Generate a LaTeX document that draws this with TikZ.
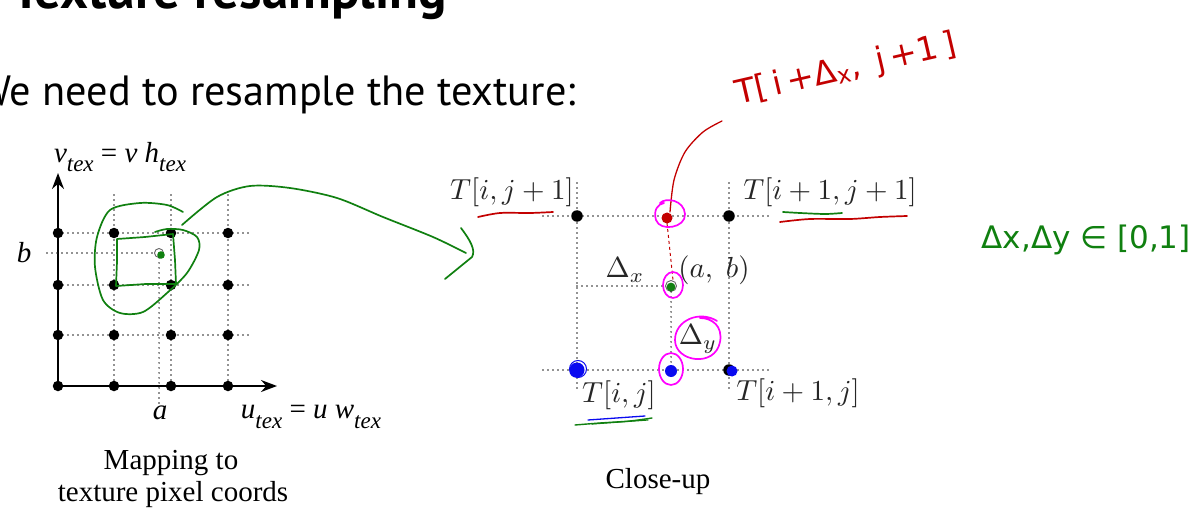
\documentclass[tikz,border=0pt]{standalone}
\usepackage{graphicx}
\usepackage{fontspec}
\setmainfont{Liberation Serif}
\newfontfamily\slidefont{PT Sans}
\newfontfamily\handfont{DejaVu Sans}
\usetikzlibrary{arrows.meta}
\definecolor{hgreen}{RGB}{16,128,16}
\definecolor{hred}{RGB}{195,0,0}
\definecolor{hmag}{RGB}{255,0,255}
\definecolor{hblue}{RGB}{10,10,240}
\newcommand{\tx}[1]{\textit{#1}}
\newcommand{\sbx}[1]{\raisebox{-0.32em}{\fontsize{23}{26}\selectfont\textit{#1}}}
\newcommand{\cmm}[1]{\scalebox{2.9}{$#1$}}
\tikzset{
  dotline/.style={line width=1.6pt, dash pattern=on 0pt off 5pt, line cap=round, black!85},
  griddot/.style={circle, fill=black, inner sep=0pt, minimum size=10.5pt},
  bigdot/.style={circle, fill=black, inner sep=0pt, minimum size=11.5pt},
  opendot/.style={circle, draw=black!60, fill=white, line width=0.9pt, inner sep=0pt, minimum size=9pt},
  axis/.style={line width=1.8pt, -{Stealth[length=16pt,width=12pt]}},
  serif/.style={font=\fontsize{29}{33}\selectfont, inner sep=0pt},
  cmlab/.style={font=\fontsize{10}{12}\selectfont, inner sep=0pt, text=black!85},
  ink/.style={line width=1.7pt, line cap=round, line join=round},
  slide/.style={font=\slidefont\fontsize{42.3}{50}\selectfont, inner sep=0pt},
  hand/.style={font=\handfont\fontsize{32}{36}\selectfont, inner sep=0pt}
}
\begin{document}
\begin{tikzpicture}[x=1pt,y=-1pt]
\clip (0,0) rectangle (1195,516);
\fill[white] (0,0) rectangle (1195,516);

% slide text
\node[slide, font=\slidefont\bfseries\fontsize{53}{60}\selectfont, anchor=base east] (title) at (447,9) {Texture resampling};
\node[slide, anchor=base east] (intro) at (576,106) {We need to resample the texture:};

% ---------- left figure ----------
\foreach \y in {335,285,233} \draw[dotline] (58,\y) -- (250,\y);
\foreach \x in {114,171,228} \draw[dotline] (\x,195) -- (\x,386);
\coordinate (O) at (58,386);
\coordinate (vtip) at (58,173);
\coordinate (utip) at (277,386);
\draw[axis] (O) -- (vtip);
\draw[axis] (O) -- (utip);
\foreach \x [count=\i] in {58,114,171,228}
  \foreach \y [count=\j] in {386,335,285,233}
    \node[griddot] (g\i\j) at (\x,\y) {};
\coordinate (bstart) at (47,253);
\coordinate (aend) at (159,407);
\node[opendot] (ab) at (159,253) {};
\draw[dotline] (bstart) -- (ab.west);
\draw[dotline] (ab.south) -- (aend);
\node[serif] (blab) at (24,253) {\tx{b}};
\node[serif] (alab) at (160,413) {\tx{a}};
\node[serif] (vlab) at (120,157) {\tx{v}\sbx{tex} = \tx{v} \tx{h}\sbx{tex}};
\node[serif] (ulab) at (311,417) {\tx{u}\sbx{tex} = \tx{u} \tx{w}\sbx{tex}};
\node[serif] (cap1) at (171,463) {Mapping to};
\node[serif] (cap2) at (173,495) {texture pixel coords};

% ---------- close-up ----------
\draw[dotline] (543,216) -- (770,216);
\draw[dotline] (543,370) -- (770,370);
\draw[dotline] (577,183) -- (577,390);
\draw[dotline] (729,183) -- (729,390);
\node[bigdot] (c11) at (577,216) {};
\node[bigdot] (c21) at (729,216) {};
\node[bigdot] (c10) at (577,370) {};
\node[bigdot] (c20) at (729,370) {};
\node[opendot, minimum size=11pt] (cab) at (671,286) {};
\coordinate (cbot) at (671,370);
\coordinate (cleft) at (577,286);
\draw[dotline] (cleft) -- (cab.west);
\draw[dotline] (cab.south) -- (cbot);
\node[cmlab] (Tij1) at (512,192) {\cmm{T[i, j+1]}};
\node[cmlab] (Ti1j1) at (830,192) {\cmm{T[i+1, j+1]}};
\node[cmlab] (Tij) at (619,395) {\cmm{T[i, j]}};
\node[cmlab] (Ti1j) at (798,393) {\cmm{T[i+1, j]}};
\node[cmlab] (dx) at (625,270) {\cmm{\Delta_x}};
\node[cmlab] (ablab) at (714,270) {\cmm{(a,\;b)}};
\node[cmlab] (dy) at (698,339) {\cmm{\Delta_y}};
\node[serif] (cap3) at (658,482) {Close-up};

% ---------- handwriting: green ----------
\draw[ink, hgreen] (117,239) -- (145,237) -- (173,234) -- (175,260) -- (176,284) -- (146,284) -- (116,286) -- (117,262) -- cycle;
\draw[ink, hgreen] plot[smooth] coordinates {(183,212) (167,205) (140,203) (110,210) (97,237) (95,267) (103,300) (120,313) (143,312) (167,293) (187,273) (199,250) (197,237) (183,230) (167,229) (155,232)};
\coordinate (arrS) at (182,225);
\coordinate (arrE) at (466,253);
\draw[ink, hgreen] plot[smooth] coordinates {(arrS) (217,197) (250,186) (290,188) (337,198) (383,217) (433,237) (arrE)};
\draw[ink, hgreen] (461,228) .. controls (470,240) and (476,250) .. (472,257) -- (445,279);
\fill[hgreen] (161,255) circle (3.8);
\fill[hgreen] (671,287) circle (4.4);
\draw[ink, hgreen] plot[smooth] coordinates {(783,212) (800,213) (825,214) (842,213)};
\draw[ink, hgreen, line width=1.4pt] plot[smooth] coordinates {(575,425) (600,423) (630,421) (652,418)};
\draw[ink, hgreen, line width=1.2pt] plot[smooth] coordinates {(592,424) (620,422) (648,420)};
\node[hand, text=hgreen, font=\handfont\fontsize{31}{36}\selectfont, anchor=east] (range) at (1191,240) {Δx,Δy ∈ [0,1]};

% ---------- handwriting: red ----------
\draw[ink, hred] plot[smooth] coordinates {(478,217) (500,213) (530,213) (553,212)};
\draw[ink, hred] plot[smooth] coordinates {(780,222) (810,219) (850,219) (880,217) (907,216)};
\fill[hred] (667,218) circle (5.5);
\coordinate (rtop) at (722,121);
\draw[ink, hred, line width=1.3pt] plot[smooth] coordinates {(670,212) (674,180) (685,152) (703,132) (rtop)};
\draw[hred, line width=1pt, dash pattern=on 3pt off 3pt] (667,223) -- (673,280);
\node[hand, text=hred, rotate=13, font=\handfont\fontsize{33}{36}\selectfont] (tnote) at (846,70) {T[\,i\,+Δ\textsubscript{x}, \,j\,+1\,]};

% ---------- handwriting: blue ----------
\fill[hblue] (577,370) circle (7.5);
\draw[hblue, line width=1pt] (578,369) circle (8.5) (576,371) circle (6) (577,368) circle (4);
\fill[hblue] (671,371) circle (6);
\fill[hblue] (732,371) circle (5.5);
\draw[ink, hblue, line width=1.3pt] (588,420) -- (645,416);

% ---------- handwriting: magenta ----------
\draw[ink, hmag] (660,203) .. controls (666,197) and (684,200) .. (685,214) .. controls (686,228) and (660,232) .. (656,220) .. controls (653,210) and (658,204) .. (664,203);
\draw[ink, hmag] (673,285) ellipse [x radius=10, y radius=13];
\draw[ink, hmag] (717,321) .. controls (700,310) and (675,320) .. (675,340) .. controls (675,362) and (715,368) .. (720,342) .. controls (723,326) and (712,318) .. (700,318);
\draw[ink, hmag] (671,369) ellipse [x radius=12, y radius=16];
\end{tikzpicture}
\end{document}
